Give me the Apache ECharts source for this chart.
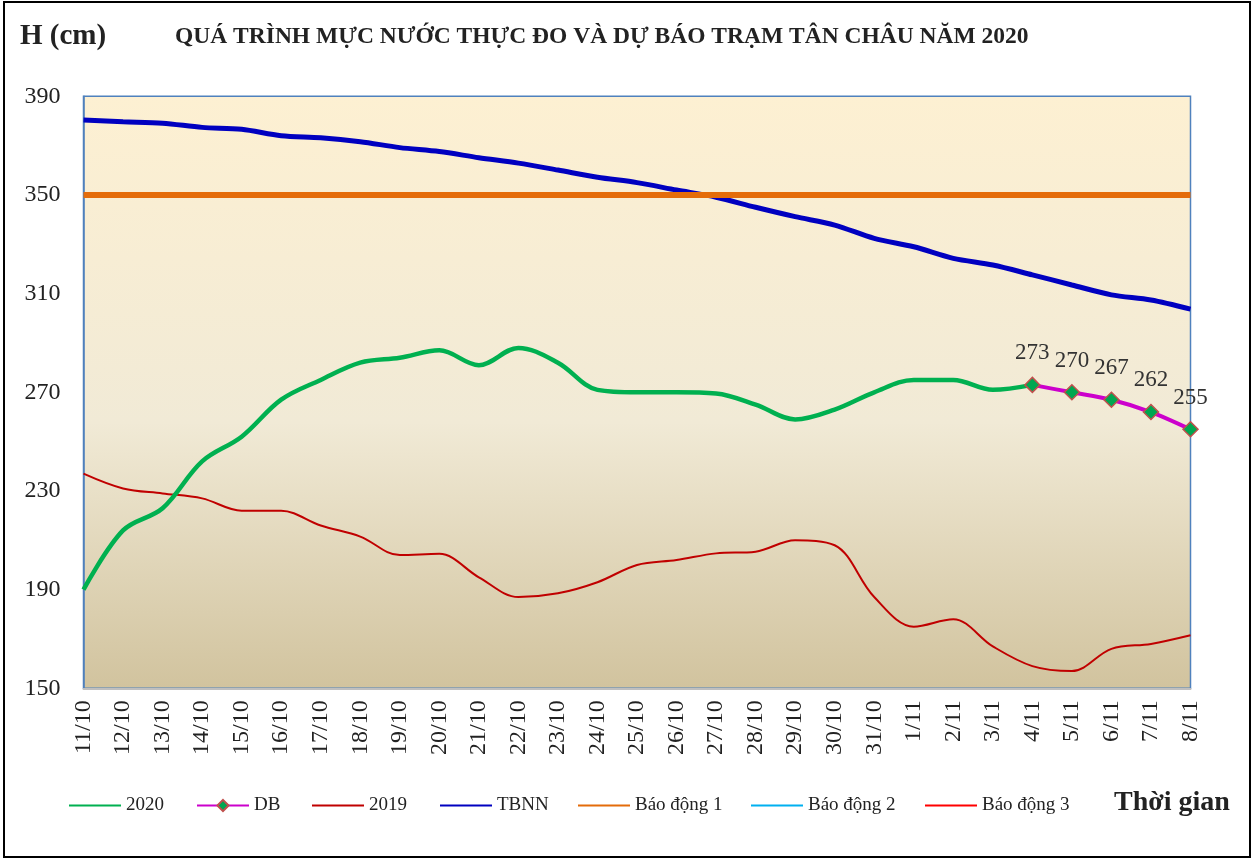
<!DOCTYPE html>
<html>
<head>
<meta charset="utf-8">
<script src="https://cdn.jsdelivr.net/npm/echarts@6/dist/echarts.min.js"></script>
<style>
html,body{margin:0;padding:0;background:#fff;}
#chart{width:1258px;height:863px;}
</style>
</head>
<body>
<div id="chart"></div>
<script>
const categories = ['11/10','12/10','13/10','14/10','15/10','16/10','17/10','18/10','19/10','20/10','21/10','22/10','23/10','24/10','25/10','26/10','27/10','28/10','29/10','30/10','31/10','1/11','2/11','3/11','4/11','5/11','6/11','7/11','8/11'];
const values2020 = [190,214,223,242,252,267,275,282,284,287,281,288,282,271,270,270,269.5,265,259,263,270,275,275,271,273];
const valuesDB = [273,270,267,262,255];
const dbStartIndex = 24;
const values2019 = [237,231,229,227,222,222,216,211.5,204,204.5,195,187,188.5,193,200,202,204.7,205.4,210,208,187,175,178,167,159,157,166,168,171.5];
const valuesTBNN = [380.4,379.7,379.1,377.4,376.6,374,373.2,371.6,369.2,367.6,365.1,362.9,360.1,357.2,355,352,349.1,345,341.2,337.8,332.4,329,324.3,321.6,317.6,313.5,309.5,307.4,303.7];
const alarm1Level = 350;
const yTicks = {min:150, max:390, interval:40};

const serif = "'Liberation Serif','Times New Roman',serif";
const dbData = categories.map((c,i)=> i>=dbStartIndex ? valuesDB[i-dbStartIndex] : null);
const alarm1Data = categories.map(()=>alarm1Level);

const chart = echarts.init(document.getElementById('chart'));
const lineIcon = 'path://M0,6 L52,6 L52,8 L0,8 Z';
const legendBase = {top:796, padding:0, itemWidth:52, itemHeight:14, textStyle:{fontFamily:serif, fontSize:19, color:'#222'}, itemGap:10, selectedMode:false};
chart.setOption({
  backgroundColor:'#fff',
  animation:false,
  graphic:[
    {type:'rect', shape:{x:4, y:2, width:1246, height:855}, style:{fill:'none', stroke:'#000', lineWidth:2}, z:100},
    {type:'text', left:20, top:22, style:{text:'H (cm)', font:"bold 29px 'Liberation Serif'", fill:'#222'}},
    {type:'text', left:175, top:25, style:{text:'QUÁ TRÌNH MỰC NƯỚC THỰC ĐO VÀ DỰ BÁO TRẠM TÂN CHÂU NĂM 2020', font:"bold 23.5px 'Liberation Serif'", fill:'#222'}},
    {type:'text', left:1114, top:789, style:{text:'Thời gian', font:"bold 28px 'Liberation Serif'", fill:'#222'}}
  ],
  legend:[
    Object.assign({}, legendBase, {left:69, data:[{name:'2020', icon:lineIcon}]}),
    Object.assign({}, legendBase, {left:196, data:['DB']}),
    Object.assign({}, legendBase, {left:312, data:[{name:'2019', icon:lineIcon}]}),
    Object.assign({}, legendBase, {left:440, data:[{name:'TBNN', icon:lineIcon}]}),
    Object.assign({}, legendBase, {left:578, data:[{name:'Báo động 1', icon:lineIcon}]}),
    Object.assign({}, legendBase, {left:751, data:[{name:'Báo động 2', icon:lineIcon}]}),
    Object.assign({}, legendBase, {left:925, data:[{name:'Báo động 3', icon:lineIcon}]})
  ],
  grid:{
    left:83.5, right:67.5, top:96.3, bottom:174.7, show:true,
    borderColor:'#4F81BD', borderWidth:1.5,
    backgroundColor: new echarts.graphic.LinearGradient(0,0,0,1,[
      {offset:0, color:'#FDF0D2'},
      {offset:0.55, color:'#F1EAD6'},
      {offset:1, color:'#D1C39E'}
    ])
  },
  xAxis:{
    type:'category', data:categories, boundaryGap:false,
    axisLine:{show:true, lineStyle:{color:'#BFBFBF', width:2}},
    axisTick:{show:false},
    axisLabel:{rotate:90, interval:0, margin:12, fontFamily:serif, fontSize:24, color:'#222'},
    splitLine:{show:false}
  },
  yAxis:{
    type:'value', min:yTicks.min, max:yTicks.max, interval:yTicks.interval,
    axisLine:{show:true, lineStyle:{color:'#4F81BD', width:1.5}},
    axisTick:{show:false},
    axisLabel:{margin:23, fontFamily:serif, fontSize:24, color:'#222'},
    splitLine:{show:false}
  },
  series:[
    {name:'2020', type:'line', data:values2020, smooth:0.35, showSymbol:false, symbol:'none',
     lineStyle:{color:'#00B050', width:4.5}, itemStyle:{color:'#00B050'}, z:3},
    {name:'DB', type:'line', data:dbData, smooth:0.3, symbol:'diamond', symbolSize:15, showSymbol:true,
     lineStyle:{color:'#CC00CC', width:4}, itemStyle:{color:'#00A650', borderColor:'#C0504D', borderWidth:1.5},
     label:{show:true, position:'top', distance:12, fontFamily:serif, fontSize:23, color:'#333'}, z:4},
    {name:'2019', type:'line', data:values2019, smooth:0.35, symbol:'none',
     lineStyle:{color:'#C00000', width:2}, itemStyle:{color:'#C00000'}, z:2},
    {name:'TBNN', type:'line', data:valuesTBNN, smooth:0.3, symbol:'none',
     lineStyle:{color:'#0000C0', width:5}, itemStyle:{color:'#0000C0'}, z:2},
    {name:'Báo động 1', type:'line', data:alarm1Data, symbol:'none',
     lineStyle:{color:'#E46C0A', width:6}, itemStyle:{color:'#E46C0A'}, z:3},
    {name:'Báo động 2', type:'line', data:[], symbol:'none',
     lineStyle:{color:'#00B0F0', width:2}, itemStyle:{color:'#00B0F0'}},
    {name:'Báo động 3', type:'line', data:[], symbol:'none',
     lineStyle:{color:'#FF0000', width:3}, itemStyle:{color:'#FF0000'}}
  ]
});
</script>
</body>
</html>
